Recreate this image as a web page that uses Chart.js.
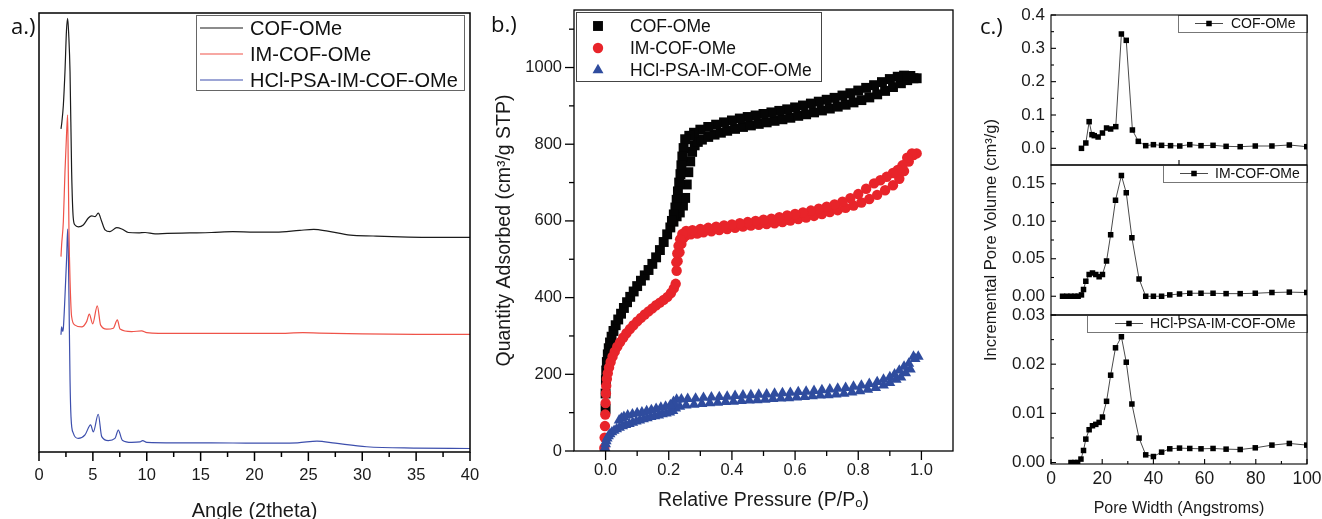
<!DOCTYPE html>
<html lang="en">
<head>
  <meta charset="UTF-8">
  <title>COF-OMe: XRD, N2 isotherms and pore size distribution</title>
  <style>
    html, body {
      margin: 0;
      padding: 0;
      background: #fff;
    }
    body {
      position: relative;
      width: 1322px;
      height: 519px;
      overflow: hidden;
    }
    canvas {
      position: absolute;
      top: 0;
    }
    .tag {
      position: absolute;
      font-family: "Open Sans", sans-serif;
      font-size: 22px;
      line-height: 1;
      color: #111;
    }
  </style>
  <script src="https://cdn.jsdelivr.net/npm/chart.js"></script>
</head>
<body>
  <canvas id="xrd" width="480" height="530" style="left:0"></canvas>
  <canvas id="iso" width="480" height="530" style="left:480px"></canvas>
  <canvas id="psd1" width="362" height="519" style="left:960px"></canvas>
  <canvas id="psd2" width="362" height="519" style="left:960px"></canvas>
  <canvas id="psd3" width="362" height="530" style="left:960px"></canvas>
  <div class="tag" style="left:11px;top:14px">a.)</div>
  <div class="tag" style="left:491px;top:12px">b.)</div>
  <div class="tag" style="left:980px;top:14px">c.)</div>

  <script>
    // ---- a.) XRD patterns, [2theta, stacked intensity] ----
    const cofXrd = [[2.04, 73.6], [2.11, 74.9], [2.26, 79.0], [2.41, 86.6], [2.55, 96], [2.66, 98.8], [2.76, 95],
      [2.88, 86.6], [3.03, 63.8], [3.18, 53.3], [3.34, 51.7], [3.65, 51.3], [4.11, 51.7], [4.58, 53.3], [4.89, 53.8],
      [5.2, 53.6], [5.5, 54.4], [5.82, 52.5], [6.13, 50.6], [6.59, 50.2], [7.21, 51.1], [7.68, 50.8], [8.29, 50.0],
      [9.22, 49.9], [9.84, 50.0], [10.77, 49.7], [11.9, 49.8], [14, 49.9], [16, 50.0], [18, 50.2], [20, 50.1],
      [22, 50.1], [24.2, 50.5], [25.5, 50.7], [26.8, 50.3], [28.9, 49.4], [31, 49.2], [33.5, 49.0], [36, 48.9], [40, 48.9]];
    const imXrd = [[2.04, 44.5], [2.1, 47.2], [2.26, 52.5], [2.41, 63.8], [2.55, 72], [2.66, 76.8], [2.72, 63.8],
      [2.78, 50.6], [2.88, 39.2], [3.03, 30.8], [3.34, 28.9], [3.96, 28.5], [4.42, 29.7], [4.67, 31.4], [4.98, 29.2],
      [5.41, 33.3], [5.72, 28.9], [6.28, 28.0], [6.9, 28.2], [7.27, 30.1], [7.52, 28.0], [8.6, 27.4], [9.53, 27.6],
      [10.0, 27.2], [12.6, 27.0], [18, 27.0], [22, 27.0], [24.5, 27.2], [26, 27.1], [30, 26.9], [35, 26.8], [40, 26.8]];
    const hclXrd = [[2.04, 26.7], [2.1, 28.5], [2.2, 27.5], [2.26, 28.2], [2.41, 35.4], [2.57, 44.5], [2.66, 50.8],
      [2.72, 46], [2.78, 35.4], [2.88, 16.4], [2.97, 8.0], [3.18, 4.3], [3.65, 3.1], [4.27, 3.9], [4.79, 6.2],
      [5.04, 4.6], [5.5, 8.6], [5.82, 3.5], [6.43, 2.6], [7.05, 3.1], [7.36, 5.0], [7.73, 2.7], [8.6, 2.2],
      [9.37, 2.3], [9.62, 2.6], [10, 2.2], [12.6, 2.1], [16, 2.1], [20, 2.0], [24, 2.1], [25.8, 2.5], [27.5, 2.0],
      [30.4, 1.2], [35, 0.9], [40, 0.8]];
    const xrdTicks = [0, 5, 10, 15, 20, 25, 30, 35, 40];
    const xrdMinor = [2.5, 7.5, 12.5, 17.5, 22.5, 27.5, 32.5, 37.5];

    // ---- b.) N2 isotherms, [P/Po, quantity] ----
    const cofAds = [[0.0, 110], [0.0, 150], [0.001, 185], [0.002, 210], [0.004, 232], [0.007, 252], [0.01, 268],
      [0.014, 283], [0.019, 298], [0.025, 313], [0.032, 328], [0.04, 343], [0.049, 358], [0.058, 373], [0.068, 388],
      [0.078, 402], [0.089, 416], [0.1, 430], [0.112, 444], [0.124, 458], [0.136, 472], [0.148, 488], [0.16, 505],
      [0.172, 524], [0.184, 545], [0.195, 565], [0.205, 583], [0.215, 598], [0.225, 612], [0.235, 622], [0.245, 640],
      [0.252, 660], [0.257, 695], [0.262, 727], [0.268, 755], [0.274, 780], [0.282, 797], [0.292, 806], [0.305, 812],
      [0.325, 819], [0.345, 825], [0.365, 830], [0.385, 835], [0.41, 840], [0.435, 845], [0.46, 849], [0.485, 853],
      [0.51, 857], [0.535, 861], [0.56, 865], [0.585, 869], [0.61, 874], [0.635, 878], [0.66, 883], [0.685, 888],
      [0.71, 893], [0.735, 898], [0.76, 903], [0.785, 909], [0.81, 915], [0.835, 922], [0.86, 930], [0.885, 939],
      [0.91, 949], [0.935, 959], [0.955, 967], [0.975, 972]];
    const cofDes = [[0.985, 972], [0.965, 978], [0.945, 979], [0.925, 976], [0.9, 970], [0.875, 962], [0.85, 954],
      [0.825, 947], [0.8, 940], [0.775, 933], [0.75, 927], [0.725, 921], [0.7, 916], [0.675, 911], [0.65, 906],
      [0.625, 901], [0.6, 896], [0.575, 891], [0.55, 887], [0.525, 883], [0.5, 879], [0.475, 875], [0.45, 871],
      [0.425, 867], [0.4, 862], [0.375, 857], [0.35, 851], [0.325, 845], [0.3, 838], [0.28, 830], [0.265, 822],
      [0.252, 813], [0.247, 790], [0.243, 768], [0.24, 745], [0.237, 722], [0.233, 700], [0.229, 677], [0.225, 655],
      [0.221, 635], [0.216, 617], [0.21, 600]];
    const imAds = [[-0.004, 8], [-0.003, 35], [-0.002, 65], [-0.001, 95], [0.0, 125], [0.001, 150], [0.002, 170],
      [0.004, 188], [0.007, 203], [0.011, 218], [0.016, 232], [0.022, 246], [0.029, 259], [0.037, 272], [0.046, 284],
      [0.056, 296], [0.066, 307], [0.077, 318], [0.088, 328], [0.1, 338], [0.112, 347], [0.124, 356], [0.136, 364],
      [0.148, 372], [0.16, 380], [0.172, 387], [0.184, 394], [0.196, 402], [0.207, 412], [0.216, 424], [0.222, 436],
      [0.225, 470], [0.228, 495], [0.234, 518], [0.24, 540], [0.247, 556], [0.256, 563], [0.27, 565], [0.29, 567],
      [0.31, 570], [0.335, 573], [0.36, 576], [0.385, 579], [0.41, 582], [0.435, 585], [0.46, 588], [0.485, 590],
      [0.51, 592], [0.535, 594], [0.56, 597], [0.585, 601], [0.61, 605], [0.635, 609], [0.66, 613], [0.685, 618],
      [0.71, 623], [0.735, 628], [0.76, 634], [0.785, 640], [0.81, 648], [0.835, 657], [0.86, 668], [0.885, 680],
      [0.91, 693], [0.93, 710], [0.945, 730], [0.96, 755], [0.975, 772]];
    const imDes = [[0.985, 776], [0.97, 776], [0.955, 765], [0.94, 745], [0.925, 733], [0.91, 725], [0.89, 715],
      [0.87, 706], [0.85, 698], [0.825, 684], [0.8, 670], [0.775, 659], [0.75, 650], [0.725, 643], [0.7, 637],
      [0.675, 632], [0.65, 627], [0.625, 622], [0.6, 618], [0.575, 614], [0.55, 610], [0.525, 606], [0.5, 603],
      [0.475, 600], [0.45, 597], [0.425, 594], [0.4, 591], [0.375, 588], [0.35, 585], [0.325, 582], [0.3, 579],
      [0.275, 576], [0.255, 574], [0.243, 566], [0.236, 552], [0.231, 535], [0.227, 515], [0.224, 492]];
    const hclAds = [[-0.002, 8], [0.0, 18], [0.002, 26], [0.005, 33], [0.009, 39], [0.014, 44], [0.02, 49],
      [0.027, 53], [0.035, 57], [0.044, 61], [0.054, 65], [0.064, 68], [0.075, 71], [0.086, 74], [0.097, 77],
      [0.108, 80], [0.12, 83], [0.132, 86], [0.144, 89], [0.156, 91], [0.168, 93], [0.18, 96], [0.192, 98],
      [0.203, 101], [0.213, 105], [0.222, 111], [0.235, 116], [0.255, 119], [0.28, 121], [0.305, 123], [0.33, 125],
      [0.355, 126], [0.38, 128], [0.405, 129], [0.43, 131], [0.455, 132], [0.48, 133], [0.505, 134], [0.53, 136],
      [0.555, 137], [0.58, 138], [0.605, 140], [0.63, 141], [0.655, 143], [0.68, 145], [0.705, 146], [0.73, 148],
      [0.755, 150], [0.78, 153], [0.805, 156], [0.83, 160], [0.855, 165], [0.88, 171], [0.9, 178], [0.92, 186],
      [0.935, 192], [0.95, 203], [0.965, 213], [0.98, 240]];
    const hclDes = [[0.99, 246], [0.975, 246], [0.96, 228], [0.945, 220], [0.93, 210], [0.915, 200], [0.9, 193],
      [0.88, 186], [0.86, 180], [0.835, 175], [0.81, 171], [0.785, 168], [0.76, 165], [0.735, 163], [0.71, 161],
      [0.685, 159], [0.66, 157], [0.635, 155], [0.61, 154], [0.585, 152], [0.56, 151], [0.535, 150], [0.51, 148],
      [0.485, 147], [0.46, 146], [0.435, 145], [0.41, 144], [0.385, 142], [0.36, 141], [0.335, 140], [0.31, 139],
      [0.285, 137], [0.26, 136], [0.24, 135], [0.225, 134], [0.215, 128], [0.205, 120], [0.19, 116], [0.175, 113],
      [0.16, 110], [0.145, 107], [0.13, 104], [0.115, 101], [0.1, 99], [0.085, 96], [0.07, 93], [0.058, 89],
      [0.05, 85], [0.043, 80]];
    const isoXTicks = [0, 0.2, 0.4, 0.6, 0.8, 1.0];
    const isoXMinor = [0.1, 0.3, 0.5, 0.7, 0.9];
    const isoYTicks = [0, 200, 400, 600, 800, 1000];
    const isoYMinor = [100, 300, 500, 700, 900, 1100];

    // ---- c.) pore size distribution ----
    const cofPsdW = [11.9, 13.6, 14.9, 16.0, 16.9, 18.4, 20.1, 21.7, 23.3, 25.3, 27.5, 29.4, 31.8, 34.1, 37.0, 40.0,
      43.2, 46.7, 50.3, 54.2, 58.6, 63.3, 68.4, 73.9, 79.8, 86.3, 93.1, 99.9];
    const cofPsdV = [0.000, 0.016, 0.080, 0.041, 0.038, 0.034, 0.046, 0.061, 0.058, 0.065, 0.343, 0.324, 0.055, 0.021,
      0.008, 0.011, 0.009, 0.008, 0.007, 0.011, 0.008, 0.009, 0.006, 0.005, 0.007, 0.007, 0.010, 0.005];
    const imPsdW = [4.5, 6.2, 7.8, 9.3, 10.6, 11.9, 12.7, 13.6, 14.9, 16.2, 17.5, 18.8, 20.1, 21.7, 23.3, 25.2, 27.5,
      29.4, 31.6, 34.4, 37.0, 40.0, 43.2, 46.4, 50.2, 54.2, 58.6, 63.3, 68.4, 73.9, 79.8, 86.3, 93.1, 99.9];
    const imPsdV = [0, 0, 0, 0, 0, 0.0018, 0.009, 0.020, 0.029, 0.031, 0.029, 0.026, 0.029, 0.047, 0.082, 0.128, 0.161,
      0.138, 0.078, 0.023, 0.0, 0.0, 0.0, 0.0018, 0.003, 0.004, 0.004, 0.004, 0.0035, 0.0035, 0.004, 0.005, 0.0055, 0.005];
    const hclPsdW = [7.8, 9.3, 10.4, 11.7, 12.7, 13.6, 14.9, 16.2, 17.5, 18.8, 20.1, 21.7, 23.3, 25.2, 27.5, 29.4,
      31.6, 34.4, 37.0, 40.0, 43.2, 46.4, 50.2, 54.2, 58.6, 63.3, 68.4, 73.9, 79.8, 86.3, 93.1, 99.9];
    const hclPsdV = [0, 0, 0, 0.0007, 0.00245, 0.00476, 0.00667, 0.00748, 0.00776, 0.00816, 0.00925, 0.01245, 0.01776,
      0.02333, 0.02558, 0.0204, 0.0119, 0.00497, 0.00156, 0.00122, 0.00211, 0.00279, 0.00293, 0.00286, 0.00279,
      0.00286, 0.00272, 0.00265, 0.00299, 0.00354, 0.00388, 0.00354];
    const psdXTicks = [0, 20, 40, 60, 80, 100];
    const psdXMinor = [10, 30, 50, 70, 90];
    const psdGapTicks = [50];
    const psdTopTicks = [0, 0.1, 0.2, 0.3, 0.4];
    const psdTopMinor = [0.05, 0.15, 0.25, 0.35];
    const psdMidTicks = [0, 0.05, 0.10, 0.15];
    const psdMidMinor = [0.025, 0.075, 0.125];
    const psdLowTicks = [0, 0.01, 0.02, 0.03];
    const psdLowMinor = [0.005, 0.015, 0.025];

    const FONT = "'Liberation Sans', Arial, sans-serif";
    Chart.defaults.font.family = FONT;
    Chart.defaults.color = '#1a1a1a';

    const pts = arr => arr.map(([x, y]) => ({ x, y }));
    const zip = (xs, ys) => xs.map((x, i) => ({ x, y: ys[i] }));

    // force the axis box size so the plot areas line up with the figure
    function fixAxis(size) {
      return function (scale) {
        if (scale.isHorizontal()) scale.height = size;
        else scale.width = size;
        scale.paddingLeft = scale.paddingRight = scale.paddingTop = scale.paddingBottom = 0;
      };
    }
    function useTicks(values) {
      return function (scale) {
        scale.ticks = values.map(v => ({ value: v }));
      };
    }
    function axis(extra) {
      return Object.assign({
        type: 'linear',
        grid: { display: false, drawTicks: false },
        border: { display: false }
      }, extra);
    }

    // frame around the plot area plus major / minor tick marks
    const framePlugin = {
      id: 'frame',
      afterDraw(chart, args, opts) {
        const { ctx, chartArea: a } = chart;
        ctx.save();
        ctx.strokeStyle = '#000';
        ctx.lineWidth = opts.width || 1.3;
        ctx.strokeRect(a.left, a.top, a.right - a.left, a.bottom - a.top);
        (opts.ticks || []).forEach(t => {
          const s = chart.scales[t.axis];
          const sign = t.inward ? -1 : 1;
          const draw = (v, len) => {
            const p = s.getPixelForValue(v);
            ctx.beginPath();
            if (t.side === 'bottom') { ctx.moveTo(p, a.bottom); ctx.lineTo(p, a.bottom + sign * len); }
            else if (t.side === 'top') { ctx.moveTo(p, a.top); ctx.lineTo(p, a.top - sign * len); }
            else { ctx.moveTo(a.left, p); ctx.lineTo(a.left - sign * len, p); }
            ctx.stroke();
          };
          t.major.forEach(v => draw(v, t.len));
          (t.minor || []).forEach(v => draw(v, t.minorLen));
        });
        ctx.restore();
      }
    };

    // boxed legend placed inside the plot like in the figure
    const boxLegend = {
      id: 'boxLegend',
      afterDatasetsDraw(chart, args, o) {
        if (!o.box) return;
        const { ctx } = chart;
        const [x, y, w, h] = o.box;
        ctx.save();
        ctx.fillStyle = '#fff';
        ctx.fillRect(x, y, w, h);
        ctx.strokeStyle = o.edge || '#555';
        ctx.lineWidth = 1;
        ctx.strokeRect(x + 0.5, y + 0.5, w, h);
        ctx.font = o.font;
        ctx.textBaseline = 'middle';
        o.items.forEach((di, k) => {
          const ds = chart.data.datasets[di];
          const cy = y + o.rowY[k];
          if (o.lineX) {
            ctx.strokeStyle = ds.borderColor;
            ctx.lineWidth = ds.borderWidth || 1;
            ctx.beginPath();
            ctx.moveTo(x + o.lineX[0], cy);
            ctx.lineTo(x + o.lineX[1], cy);
            ctx.stroke();
          }
          if (o.markX != null && Chart.helpers && Chart.helpers.drawPoint) {
            ctx.fillStyle = ds.pointBackgroundColor;
            Chart.helpers.drawPoint(ctx, { pointStyle: ds.pointStyle, radius: ds.pointRadius, rotation: 0, borderWidth: 0 },
              x + o.markX, cy);
          }
          ctx.fillStyle = '#111';
          ctx.fillText(ds.label, x + o.textX, cy + 1);
        });
        ctx.restore();
      }
    };

    const base = {
      responsive: false,
      animation: false,
      devicePixelRatio: 1,
      events: []
    };

    // ---------- a.) ----------
    function xrdSet(label, data, color) {
      return {
        label, data: pts(data), borderColor: color, borderWidth: 1.2,
        pointRadius: 0, cubicInterpolationMode: 'monotone', fill: false
      };
    }
    new Chart(document.getElementById('xrd'), {
      type: 'line',
      data: {
        datasets: [
          xrdSet('COF-OMe', cofXrd, '#1b1b1b'),
          xrdSet('IM-COF-OMe', imXrd, '#ef5349'),
          xrdSet('HCl-PSA-IM-COF-OMe', hclXrd, '#3d4fad')
        ]
      },
      options: Object.assign({}, base, {
        layout: { padding: { top: 13, right: 10, left: 0, bottom: 0 } },
        plugins: {
          legend: { display: false },
          tooltip: { enabled: false },
          frame: { width: 1.5, ticks: [{ axis: 'x', side: 'bottom', major: xrdTicks, minor: xrdMinor, len: 9, minorLen: 5 }] },
          boxLegend: {
            box: [196, 15, 268, 75], rowY: [13, 39, 65], items: [0, 1, 2],
            lineX: [4, 47], textX: 54, font: '20px ' + FONT, edge: '#666'
          }
        },
        scales: {
          x: axis({
            min: 0, max: 40,
            afterBuildTicks: useTicks(xrdTicks),
            afterFit: fixAxis(78),
            ticks: { padding: 14, autoSkip: false, maxRotation: 0, font: { size: 16.5 } },
            title: { display: true, text: 'Angle (2theta)', font: { size: 20 }, padding: { top: 0, bottom: 7 } }
          }),
          y: axis({ min: 0, max: 100, ticks: { display: false }, afterFit: fixAxis(39) })
        }
      }),
      plugins: [framePlugin, boxLegend]
    });

    // ---------- b.) ----------
    function isoSet(label, ads, des, color, style, radius, order) {
      return {
        label, data: pts(ads.concat(des)), order,
        pointStyle: style, pointRadius: radius, pointBackgroundColor: color,
        pointBorderWidth: 0, borderColor: color, showLine: false
      };
    }
    new Chart(document.getElementById('iso'), {
      type: 'scatter',
      data: {
        datasets: [
          isoSet('COF-OMe', cofAds, cofDes, '#050505', 'rect', 7, 3),
          isoSet('IM-COF-OMe', imAds, imDes, '#e8242a', 'circle', 5.2, 2),
          isoSet('HCl-PSA-IM-COF-OMe', hclAds, hclDes, '#2f4c9e', 'triangle', 6.3, 1)
        ]
      },
      options: Object.assign({}, base, {
        layout: { padding: { top: 10, right: 7, left: 0, bottom: 0 } },
        plugins: {
          legend: { display: false },
          tooltip: { enabled: false },
          frame: {
            width: 1.3,
            ticks: [
              { axis: 'x', side: 'bottom', major: isoXTicks, minor: isoXMinor, len: 9, minorLen: 5 },
              { axis: 'y', side: 'left', major: isoYTicks, minor: isoYMinor, len: 9, minorLen: 5 }
            ]
          },
          boxLegend: {
            box: [96, 12, 245, 69], rowY: [14, 36, 58], items: [0, 1, 2],
            markX: 22, textX: 54, font: '17.5px ' + FONT, edge: '#444'
          }
        },
        scales: {
          x: axis({
            min: -0.1, max: 1.1,
            afterBuildTicks: useTicks(isoXTicks),
            afterFit: fixAxis(79),
            ticks: { padding: 10, autoSkip: false, maxRotation: 0, font: { size: 16.5 }, callback: v => v.toFixed(1) },
            title: { display: true, text: 'Relative Pressure (P/Pₒ)', font: { size: 19.5 }, padding: { top: 0, bottom: 18 } }
          }),
          y: axis({
            min: 0, max: 1150,
            afterBuildTicks: useTicks(isoYTicks),
            afterFit: fixAxis(94),
            ticks: { padding: 12, autoSkip: false, font: { size: 16.5 }, callback: v => String(v) },
            title: { display: true, text: 'Quantity Adsorbed (cm³/g STP)', font: { size: 19.5 }, padding: { top: 13, bottom: 0 } }
          })
        }
      }),
      plugins: [framePlugin, boxLegend]
    });

    // ---------- c.) ----------
    function psdChart(id, label, w, v, yr, yTicks, yMinor, decimals, pad, legendBox, legendX, bottomAxis, yTitle, xTicksSpec) {
      const ds = {
        label, data: zip(w, v), borderColor: '#4a4a4a', borderWidth: 1, tension: 0,
        pointStyle: 'rect', pointRadius: 3.9, pointBackgroundColor: '#000', pointBorderWidth: 0
      };
      const xAxis = bottomAxis
        ? axis({
            min: 0, max: 100,
            afterBuildTicks: useTicks(psdXTicks),
            afterFit: fixAxis(66),
            ticks: { padding: 4.5, autoSkip: false, maxRotation: 0, font: { size: 17.5 } },
            title: { display: true, text: 'Pore Width (Angstroms)', font: { size: 16 }, padding: { top: 0, bottom: 12 } }
          })
        : axis({ min: 0, max: 100, ticks: { display: false }, afterFit: fixAxis(0) });
      const yAxis = axis({
        min: yr[0], max: yr[1],
        afterBuildTicks: useTicks(yTicks),
        afterFit: fixAxis(91),
        ticks: { padding: 6, autoSkip: false, font: { size: 17 }, callback: t => t.toFixed(decimals) }
      });
      if (yTitle) {
        yAxis.title = { display: true, text: yTitle, font: { size: 16.5 }, padding: { top: 22, bottom: 0 } };
      }
      return new Chart(document.getElementById(id), {
        type: 'line',
        data: { datasets: [ds] },
        options: Object.assign({}, base, {
          layout: { padding: { top: pad[0], right: 15, left: 0, bottom: pad[1] } },
          plugins: {
            legend: { display: false },
            tooltip: { enabled: false },
            frame: {
              width: 1.1,
              ticks: [{ axis: 'y', side: 'left', major: yTicks, minor: yMinor, len: 5, minorLen: 3, inward: true }].concat(xTicksSpec)
            },
            boxLegend: Object.assign({ box: legendBox, rowY: [8.5], items: [0], font: '14px ' + FONT, edge: '#777' }, legendX)
          },
          scales: { x: xAxis, y: yAxis }
        }),
        plugins: [framePlugin, boxLegend]
      });
    }

    psdChart('psd1', 'COF-OMe', cofPsdW, cofPsdV, [-0.05, 0.4], psdTopTicks, psdTopMinor, 1,
      [15, 354], [218, 15, 129, 17], { lineX: [17, 45], markX: 31, textX: 53 }, false, null,
      [{ axis: 'x', side: 'bottom', major: psdGapTicks, len: 5, inward: true }]);
    psdChart('psd2', 'IM-COF-OMe', imPsdW, imPsdV, [-0.025, 0.175], psdMidTicks, psdMidMinor, 2,
      [165, 204], [203, 165, 144, 17], { lineX: [17, 45], markX: 31, textX: 52 }, false,
      'Incremental Pore Volume (cm³/g)', []);
    psdChart('psd3', 'HCl-PSA-IM-COF-OMe', hclPsdW, hclPsdV, [-0.0003, 0.03], psdLowTicks, psdLowMinor, 2,
      [315, 0], [127, 315, 220, 17], { lineX: [28, 56], markX: 42, textX: 63 }, true, null,
      [{ axis: 'x', side: 'bottom', major: psdXTicks, minor: psdXMinor, len: 5, minorLen: 3, inward: true },
       { axis: 'x', side: 'top', major: psdGapTicks, len: 5, inward: true }]);
  </script>
</body>
</html>
